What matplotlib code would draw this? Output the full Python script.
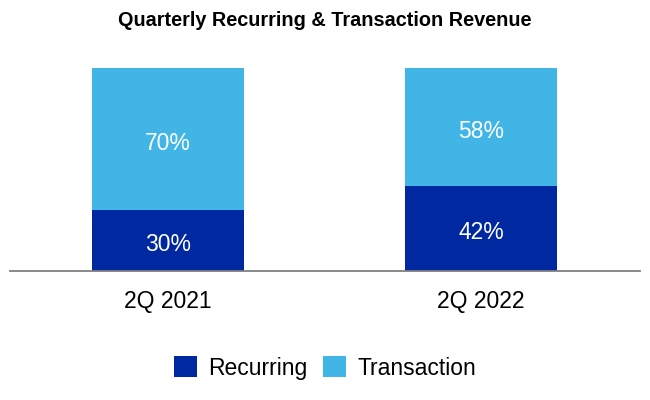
import matplotlib
matplotlib.use('Agg')
import matplotlib.pyplot as plt

plt.rcParams['font.family'] = ['Liberation Sans', 'DejaVu Sans']

quarters = ['2Q 2021', '2Q 2022']
recurring = [30, 42]
transaction = [70, 58]

dark_blue = '#0028A0'
light_blue = '#41B6E6'

fig = plt.figure(figsize=(6.5, 4), dpi=100)
ax = fig.add_axes([10 / 650, 129 / 400, 630 / 650, 203 / 400])

x = range(len(quarters))
b1 = ax.bar(x, recurring, width=0.486, color=dark_blue, label='Recurring')
b2 = ax.bar(x, transaction, width=0.486, bottom=recurring, color=light_blue, label='Transaction')

# labels sit a little below the middle of each segment
for i in x:
    ax.annotate(f'{recurring[i]}%', (i, recurring[i] / 2), xytext=(0, -3),
                textcoords='offset points', ha='center', va='center',
                color='white', fontsize=16.5)
    ax.annotate(f'{transaction[i]}%', (i, recurring[i] + transaction[i] / 2), xytext=(0, -3),
                textcoords='offset points', ha='center', va='center',
                color='white', fontsize=16.5)

ax.set_xlim(-0.505, 1.508)
ax.set_ylim(0, 100)
ax.set_xticks(list(x))
ax.set_xticklabels(quarters, fontsize=16.5)
ax.tick_params(axis='x', length=0, pad=14)
ax.set_yticks([])
for s in ['top', 'right', 'left']:
    ax.spines[s].set_visible(False)
ax.spines['bottom'].set_color('#7f7f7f')
ax.spines['bottom'].set_linewidth(1.3)

fig.text(0.5, 0.948, 'Quarterly Recurring & Transaction Revenue', ha='center', va='center',
         fontsize=14.3, fontweight='bold')

fig.legend(handles=[b1, b2], loc='center', bbox_to_anchor=(0.5, 0.08), ncol=2,
           frameon=False, fontsize=16.5, handlelength=1.0, handleheight=1.0,
           columnspacing=0.7, handletextpad=0.5)

fig.savefig('out.png', dpi=100)
